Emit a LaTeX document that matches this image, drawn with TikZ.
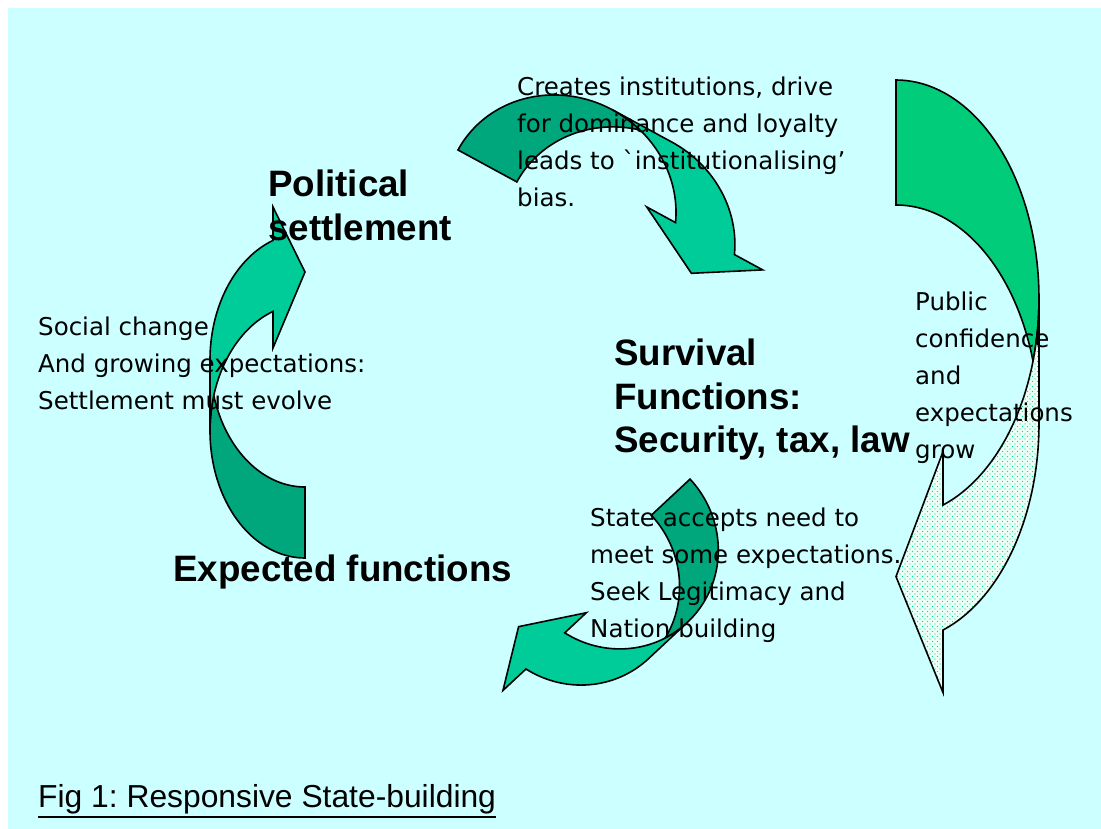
\documentclass[tikz,border=0pt]{standalone}
\usepackage{fontspec}
\usetikzlibrary{patterns,calc}
\newfontfamily\handfont{DejaVu Sans}
\newfontfamily\headfont{Liberation Sans}
\definecolor{bgcyan}{RGB}{204,255,255}
\definecolor{ribbonlight}{RGB}{0,204,153}
\definecolor{ribbondark}{RGB}{0,166,124}
\definecolor{ribbongreen}{RGB}{0,204,122}
\definecolor{dotgreen}{RGB}{0,220,130}
\definecolor{dotbg}{RGB}{236,255,248}

% staggered dot fill
\pgfdeclarepatternformonly{stagdots}{\pgfqpoint{-1pt}{-1pt}}{\pgfqpoint{4pt}{4pt}}{\pgfqpoint{5pt}{5pt}}{%
  \pgfpathcircle{\pgfqpoint{0pt}{0pt}}{0.7pt}%
  \pgfpathcircle{\pgfqpoint{2.5pt}{2.5pt}}{0.7pt}%
  \pgfusepath{fill}}

% Curved ribbon arrow built from two equal ellipses shifted by the band width.
% Local frame: ellipse A centred at the origin, band opens to +x, tail at +y,
% head at -y.  #1 rx, #2 ry, #3 band width, #4 head base offset,
% #5 outer barb y, #6 tip x, #7 tip y, #8 inner barb y
\newcommand{\ribbonarrow}[8]{%
  \pgfmathsetmacro\rbHead{180+acos(#4/#1)}%
  \pgfmathsetmacro\rbMeetA{180+asin(#3/(2*#2))}%
  \pgfmathsetmacro\rbMeetB{180-asin(#3/(2*#2))}%
  \path[ribbon back]
    plot[domain=90:\rbMeetA,samples=50] ({#1*cos(\x)},{#2*sin(\x)})
    -- plot[domain=\rbMeetB:90,samples=50] ({#1*cos(\x)},{#2*sin(\x)-#3})
    -- cycle;
  \path[ribbon front]
    plot[domain=\rbHead:180,samples=50] ({#1*cos(\x)},{#2*sin(\x)})
    -- plot[domain=180:\rbHead,samples=50] ({#1*cos(\x)},{#2*sin(\x)-#3})
    -- (-#4,#5) -- (#6,#7) -- (-#4,#8) -- cycle;
}

\frenchspacing
\begin{document}
\begin{tikzpicture}[x=1pt,y=-1pt,
  outline/.style={draw=black, line width=1.6pt, line join=miter},
  back green/.style={outline, fill=ribbondark},
  front green/.style={outline, fill=ribbonlight},
  back solid/.style={outline, fill=ribbongreen},
  front dotted/.style={outline, preaction={fill=dotbg}, pattern=stagdots, pattern color=dotgreen},
  handtext/.style={font=\handfont\fontsize{24.5pt}{36.8pt}\selectfont, align=left, inner sep=0pt},
  headtext/.style={font=\headfont\bfseries\fontsize{36.75pt}{43.5pt}\selectfont, align=left, inner sep=0pt},
  captext/.style={font=\headfont\fontsize{31.8pt}{36pt}\selectfont, inner sep=0pt}]

\useasboundingbox (0,0) rectangle (1101,829);
\fill[white] (0,0) rectangle (1101,829);
\fill[bgcyan] (8,8) rectangle (1101,829);

% left arrow: up towards the political settlement
\begin{scope}[shift={(305,431)}, ribbon back/.style={back green}, ribbon front/.style={front green}]
  \ribbonarrow{95}{127}{71}{32}{-224}{0}{-159}{-83}
\end{scope}

% top arrow: down towards the survival functions
\begin{scope}[shift={(560.8,205.8)}, rotate=-118.5, ribbon back/.style={back green}, ribbon front/.style={front green}]
  \ribbonarrow{109}{117}{67}{40}{-208}{-3}{-147}{-76}
\end{scope}

% bottom arrow: towards the expected functions
\begin{scope}[shift={(616.9,547.3)}, rotate=133, ribbon back/.style={back green}, ribbon front/.style={front green}]
  \ribbonarrow{103}{100}{53}{27}{-181}{9}{-126}{-67}
\end{scope}

% right arrow: public confidence, dotted head
\begin{scope}[shift={(896,298.6)}, rotate=180, ribbon back/.style={back solid}, ribbon front/.style={front dotted}]
  \ribbonarrow{143}{218.6}{125}{47}{-394}{0}{-278}{-153}
\end{scope}

% headings
\node[headtext, anchor=north west] (political) at (268,170) {Political\\settlement};
\node[headtext, anchor=north west] (survival) at (614,339) {Survival\\Functions:\\Security, tax, law};
\node[headtext, anchor=base west] (expected) at (173,581) {Expected functions};

% annotations
\node[handtext, anchor=north west] (creates) at (517,77)
  {Creates institutions, drive\\for dominance and loyalty\\leads to ˋinstitutionalising’\\bias.};
\node[handtext, anchor=north west] (social) at (38,317)
  {Social change\\And growing expectations:\\Settlement must evolve};
\node[handtext, anchor=north west] (public) at (915,292)
  {Public\\confidence\\and\\expectations\\grow};
\node[handtext, anchor=north west] (accepts) at (590,508)
  {State accepts need to\\meet some expectations.\\Seek Legitimacy and\\Nation building};

% caption
\node[captext, anchor=base west] (caption) at (38,807) {Fig 1: Responsive State-building};
\draw[line width=2pt] ($(caption.base west)+(0,9.5)$) -- ($(caption.base east)+(0,9.5)$);
\end{tikzpicture}
\end{document}
